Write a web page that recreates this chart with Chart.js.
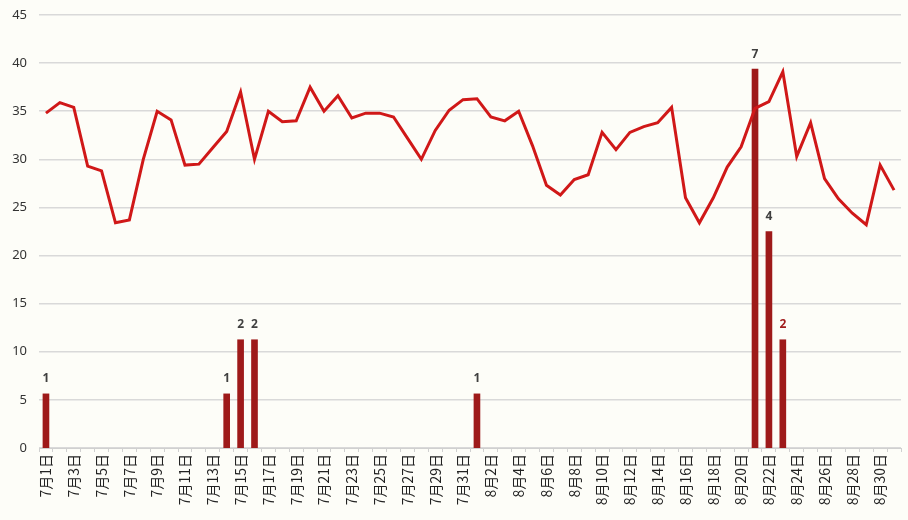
<!DOCTYPE html>
<html>
<head>
<meta charset="utf-8">
<script src="https://cdn.jsdelivr.net/npm/chart.js@4"></script>
<style>
  body { margin: 0; background: #fdfdf8; }
  #wrap { width: 908px; height: 520px; }
</style>
</head>
<body>
<div id="wrap"><canvas id="trendChart"></canvas></div>
<script>
// dates 7/1 - 8/31
const days = [
    '7月1日', '7月2日', '7月3日', '7月4日', '7月5日', '7月6日', '7月7日', '7月8日', '7月9日', '7月10日',
    '7月11日', '7月12日', '7月13日', '7月14日', '7月15日', '7月16日', '7月17日', '7月18日', '7月19日', '7月20日',
    '7月21日', '7月22日', '7月23日', '7月24日', '7月25日', '7月26日', '7月27日', '7月28日', '7月29日', '7月30日',
    '7月31日', '8月1日', '8月2日', '8月3日', '8月4日', '8月5日', '8月6日', '8月7日', '8月8日', '8月9日',
    '8月10日', '8月11日', '8月12日', '8月13日', '8月14日', '8月15日', '8月16日', '8月17日', '8月18日', '8月19日',
    '8月20日', '8月21日', '8月22日', '8月23日', '8月24日', '8月25日', '8月26日', '8月27日', '8月28日', '8月29日',
    '8月30日', '8月31日'
];

// daily line values
const lineValues = [
    34.8, 35.9, 35.4, 29.3, 28.8, 23.4, 23.7, 30.0, 35.0, 34.1,
    29.4, 29.5, 31.2, 32.9, 37.0, 30.0, 35.0, 33.9, 34.0, 37.5,
    35.0, 36.6, 34.3, 34.8, 34.8, 34.4, 32.2, 30.0, 33.0, 35.1,
    36.2, 36.3, 34.4, 34.0, 35.0, 31.4, 27.3, 26.3, 27.9, 28.4,
    32.8, 31.0, 32.8, 33.4, 33.8, 35.4, 26.0, 23.4, 26.0, 29.2,
    31.3, 35.3, 36.0, 39.1, 30.3, 33.8, 28.0, 25.9, 24.4, 23.2,
    29.4, 26.8
];

// case counts (bars)
const counts = [
    1, null, null, null, null, null, null, null, null, null,
    null, null, null, 1, 2, 2, null, null, null, null,
    null, null, null, null, null, null, null, null, null, null,
    null, 1, null, null, null, null, null, null, null, null,
    null, null, null, null, null, null, null, null, null, null,
    null, 7, 4, 2, null, null, null, null, null, null,
    null, null
];

const yTicks = [0, 5, 10, 15, 20, 25, 30, 35, 40, 45];

// count labels above the bars
const barLabels = {
    id: 'barLabels',
    afterDatasetsDraw(chart) {
        const ctx = chart.ctx;
        const meta = chart.getDatasetMeta(1);
        ctx.save();
        ctx.font = 'bold 12px "Noto Sans", sans-serif';
        ctx.textAlign = 'center';
        ctx.textBaseline = 'bottom';
        meta.data.forEach((bar, i) => {
            if (counts[i] == null) return;
            ctx.fillStyle = i === 53 ? '#a01c1c' : '#404040';
            ctx.fillText(counts[i], bar.x, bar.y - 9);
        });
        ctx.restore();
    }
};

const ctx = document.getElementById('trendChart').getContext('2d');
new Chart(ctx, {
    data: {
        labels: days,
        datasets: [{
            type: 'line',
            data: lineValues,
            borderColor: '#d01818',
            borderWidth: 3,
            pointRadius: 0,
            tension: 0,
            yAxisID: 'y',
            order: 1
        }, {
            type: 'bar',
            data: counts,
            backgroundColor: '#9e1a1a',
            barThickness: 6,
            yAxisID: 'y2',
            order: 2
        }]
    },
    options: {
        responsive: true,
        maintainAspectRatio: false,
        animation: false,
        layout: { padding: { top: 15, right: 7, bottom: 0, left: 0 } },
        plugins: {
            legend: { display: false },
            tooltip: { enabled: false }
        },
        scales: {
            x: {
                grid: { display: true, drawOnChartArea: false, tickLength: 4, color: '#d0d0d0' },
                border: { color: '#d0d0d0' },
                ticks: {
                    autoSkip: false,
                    maxRotation: 90,
                    minRotation: 90,
                    padding: 2,
                    color: '#222',
                    font: { size: 14, family: '"Noto Sans CJK JP", sans-serif' },
                    callback: (v, i) => i % 2 === 0 ? days[i] : ''
                },
                afterFit: s => { s.height = 72; s.paddingLeft = 0; s.paddingRight = 0; }
            },
            y: {
                min: 0,
                max: 45,
                afterBuildTicks: s => { s.ticks = yTicks.map(v => ({ value: v })); },
                grid: { color: '#d9d9d9', lineWidth: 1.5, drawTicks: false },
                border: { display: false },
                ticks: {
                    padding: 12,
                    color: '#333',
                    font: { size: 13, family: '"Noto Sans", sans-serif' }
                },
                afterFit: s => { s.width = 39; s.paddingTop = 0; s.paddingBottom = 0; }
            },
            y2: {
                min: 0,
                max: 8,
                display: false
            }
        }
    },
    plugins: [barLabels]
});
</script>
</body>
</html>
